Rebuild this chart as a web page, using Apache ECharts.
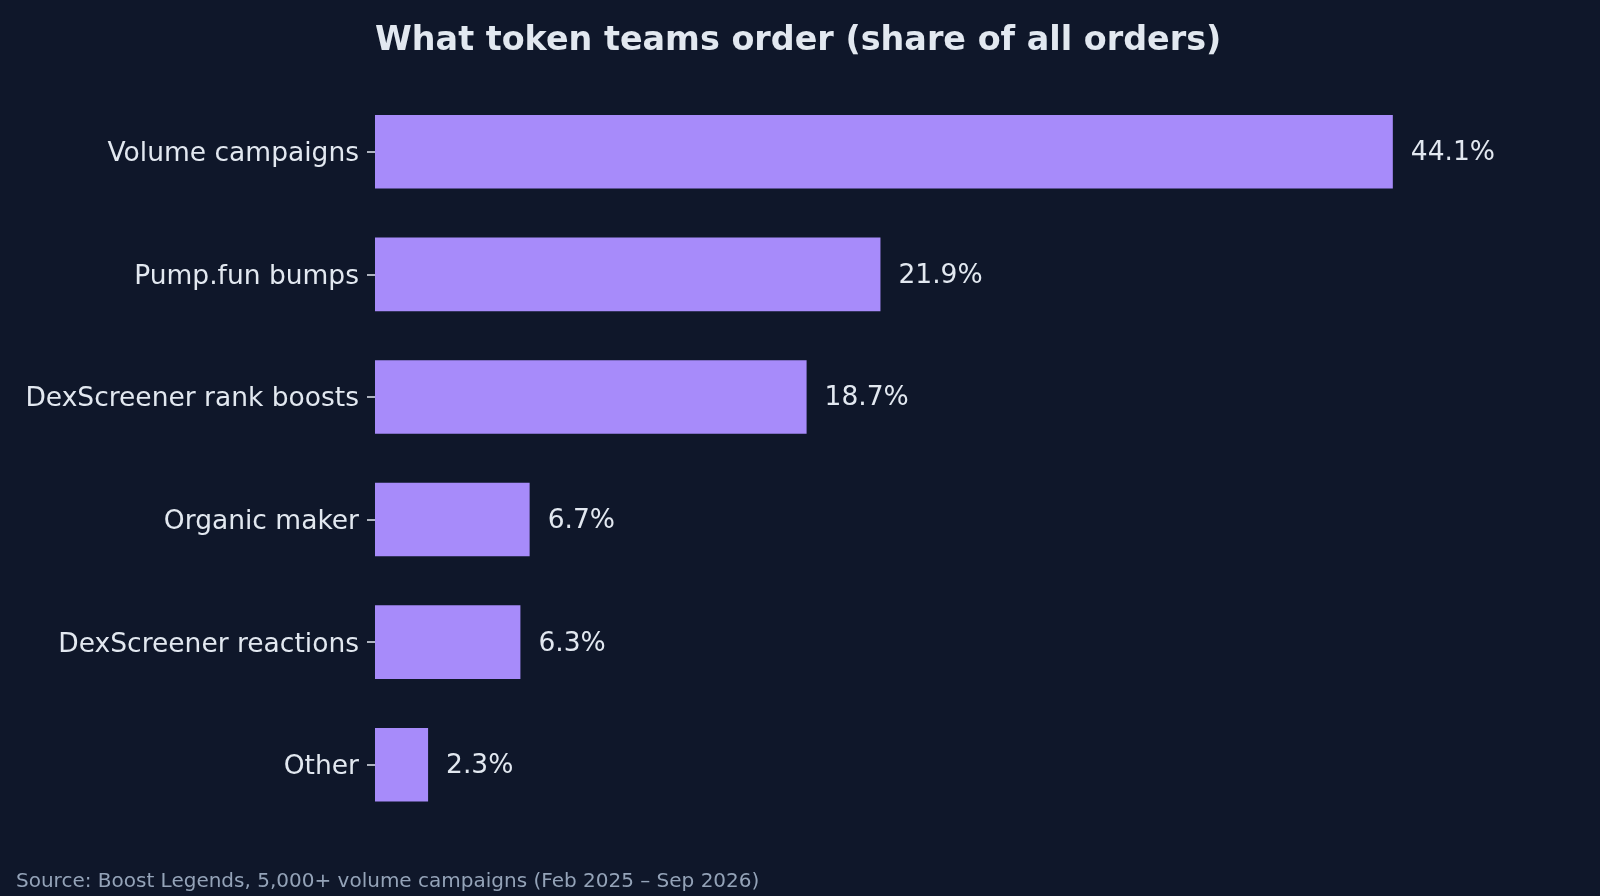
<!DOCTYPE html>
<html>
<head>
<meta charset="utf-8">
<style>
html,body{margin:0;padding:0;background:#0f172a;}
#chart{width:1600px;height:896px;}
</style>
<script src="https://cdn.jsdelivr.net/npm/echarts@6/dist/echarts.min.js"></script>
</head>
<body>
<div id="chart"></div>
<script>
const categories = ["Volume campaigns","Pump.fun bumps","DexScreener rank boosts","Organic maker","DexScreener reactions","Other"];
const shares = [44.1, 21.9, 18.7, 6.7, 6.3, 2.3];
const titleText = "What token teams order (share of all orders)";
const sourceText = "Source: Boost Legends, 5,000+ volume campaigns (Feb 2025 \u2013 Sep 2026)";

const font = "DejaVu Sans";
const chart = echarts.init(document.getElementById('chart'), null, {renderer:'canvas'});
chart.setOption({
  backgroundColor: '#0f172a',
  animation: false,
  title: {
    text: titleText,
    left: 375,
    top: 25,
    padding: 0,
    textStyle: {color:'#e2e8f0', fontFamily: font, fontWeight:'bold', fontSize:33.4}
  },
  graphic: [{
    type:'text', left:16, top:872,
    style:{text: sourceText, fill:'#94a3b8', font: '20px "DejaVu Sans"'}
  }],
  grid: {left:375, right:71, top:90.5, bottom:70, containLabel:false},
  xAxis: {
    type:'value', min:0, max:50,
    show:false
  },
  yAxis: {
    type:'category', data: categories, inverse:true,
    axisLine:{show:false},
    axisTick:{show:true, alignWithLabel:true, length:8, lineStyle:{color:'#e2e8f0', width:1.5}},
    axisLabel:{margin:16, formatter: v => '{a|' + v + '}',
      rich:{a:{color:'#e2e8f0', fontFamily:font, fontSize:26.5, padding:[5,0,0,0]}}},
    splitLine:{show:false}
  },
  series: [{
    type:'bar', data: shares, barWidth:'60%',
    itemStyle:{color:'#a78bfa'},
    label:{show:true, position:'right', distance:18,
      formatter: p => '{a|' + p.value.toFixed(1) + '%}',
      rich:{a:{color:'#e2e8f0', fontFamily:font, fontSize:26.5, padding:[3,0,0,0]}}}
  }]
});
</script>
</body>
</html>
